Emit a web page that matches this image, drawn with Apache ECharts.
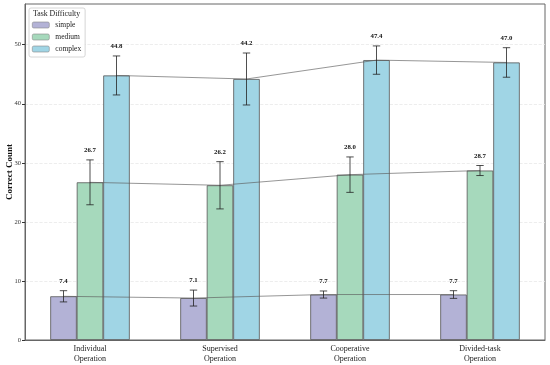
<!DOCTYPE html>
<html>
<head>
<meta charset="utf-8">
<script src="https://cdn.jsdelivr.net/npm/echarts@6/dist/echarts.min.js"></script>
<style>html,body{margin:0;padding:0;background:#fff}#c{width:550px;height:365px}</style>
</head>
<body>
<div id="c"></div>
<script>
var categories = ['Individual\nOperation', 'Supervised\nOperation', 'Cooperative\nOperation', 'Divided-task\nOperation'];
var seriesNames = ['simple', 'medium', 'complex'];
var simpleVals = [7.4, 7.1, 7.7, 7.7];
var simpleErr = [0.95, 1.35, 0.6, 0.65];
var mediumVals = [26.7, 26.2, 28.0, 28.7];
var mediumErr = [3.8, 4.0, 3.0, 0.85];
var complexVals = [44.8, 44.2, 47.4, 47.0];
var complexErr = [3.3, 4.4, 2.4, 2.5];
var yTicks = [0, 10, 20, 30, 40, 50];

var FONT = '"Liberation Serif", "Times New Roman", serif';
var colors = ['#b3b2d6', '#a6d9bc', '#a0d5e5'];
var BAR_W = 26.5;
var vals = [simpleVals, mediumVals, complexVals];
var errs = [simpleErr, mediumErr, complexErr];

var chart = echarts.init(document.getElementById('c'), null, {renderer: 'canvas'});

var series = [];
seriesNames.forEach(function (name, k) {
  series.push({
    name: name,
    type: 'bar',
    data: vals[k],
    barWidth: BAR_W,
    barGap: '0%',
    itemStyle: {color: colors[k], borderColor: '#555', borderWidth: 0.8},
    z: 2,
    animation: false
  });
});
seriesNames.forEach(function (name, k) {
  var data = vals[k].map(function (v, i) {
    var next = i + 1 < vals[k].length ? vals[k][i + 1] : null;
    return [i, v, errs[k][i], next];
  });
  series.push({
    name: name + '-err',
    type: 'custom',
    data: data,
    encode: {x: 0, y: 1},
    z: 5,
    animation: false,
    renderItem: function (params, api) {
      var i = api.value(0), v = api.value(1), e = api.value(2), nx = api.value(3);
      var off = (k - 1) * BAR_W;
      var p = api.coord([i, v]);
      var top = api.coord([i, v + e]);
      var bot = api.coord([i, v - e]);
      var x = p[0] + off;
      var children = [];
      if (nx !== null && !isNaN(nx) && i < categories.length - 1) {
        var q = api.coord([i + 1, nx]);
        children.push({
          type: 'line',
          shape: {x1: x, y1: p[1], x2: q[0] + off, y2: q[1]},
          style: {stroke: 'rgba(90,90,90,0.8)', lineWidth: 0.8}
        });
      }
      children.push({type: 'line', shape: {x1: x, y1: top[1], x2: x, y2: bot[1]}, style: {stroke: '#222', lineWidth: 0.8}});
      children.push({type: 'line', shape: {x1: x - 3.7, y1: top[1], x2: x + 3.7, y2: top[1]}, style: {stroke: '#222', lineWidth: 0.8}});
      children.push({type: 'line', shape: {x1: x - 3.7, y1: bot[1], x2: x + 3.7, y2: bot[1]}, style: {stroke: '#222', lineWidth: 0.8}});
      children.push({
        type: 'text',
        x: x, y: top[1] - 9.5,
        style: {text: v.toFixed(1), fill: '#111', font: 'bold 6.8px ' + FONT, textAlign: 'center', textVerticalAlign: 'middle'}
      });
      return {type: 'group', children: children};
    }
  });
});

chart.setOption({
  animation: false,
  backgroundColor: '#fff',
  grid: {left: 25, right: 5, top: 4, bottom: 25, show: true, borderColor: '#666', borderWidth: 1, containLabel: false, outerBoundsMode: 'none'},
  xAxis: {
    type: 'category',
    data: categories,
    axisLine: {lineStyle: {color: '#666', width: 1}},
    axisTick: {alignWithLabel: true, length: 3, lineStyle: {color: '#333'}},
    axisLabel: {fontFamily: FONT, fontSize: 8, color: '#222', margin: 4, lineHeight: 10}
  },
  yAxis: {
    type: 'value',
    min: 0, max: 56.9, interval: 10,
    name: 'Correct Count',
    nameLocation: 'middle',
    nameGap: 11,
    nameMoveOverlap: false,
    nameTextStyle: {fontFamily: FONT, fontSize: 9, fontWeight: 'bold', color: '#111'},
    axisLine: {show: true, lineStyle: {color: '#666', width: 1}},
    axisTick: {show: true, length: 3, lineStyle: {color: '#333'}, customValues: yTicks},
    axisLabel: {fontFamily: FONT, fontSize: 6.5, color: '#333', margin: 4, customValues: yTicks},
    splitLine: {show: true, lineStyle: {color: '#e8e8e8', type: 'dashed', width: 0.8}}
  },
  legend: {
    data: seriesNames,
    orient: 'vertical',
    left: 29, top: 8,
    padding: [13, 4, 4, 3],
    itemWidth: 17, itemHeight: 6, itemGap: 4,
    borderColor: '#cccccc', borderWidth: 0.8, borderRadius: 2,
    backgroundColor: 'rgba(255,255,255,0.85)',
    itemStyle: {borderColor: '#888', borderWidth: 0.6},
    textStyle: {fontFamily: FONT, fontSize: 7.5, color: '#222', padding: [0, 0, 0, 1]},
    selectedMode: false
  },
  graphic: [{
    type: 'text', left: 33, top: 10, z: 100,
    style: {text: 'Task Difficulty', font: '7.8px ' + FONT, fill: '#222'}
  }],
  series: series
});
</script>
</body>
</html>
